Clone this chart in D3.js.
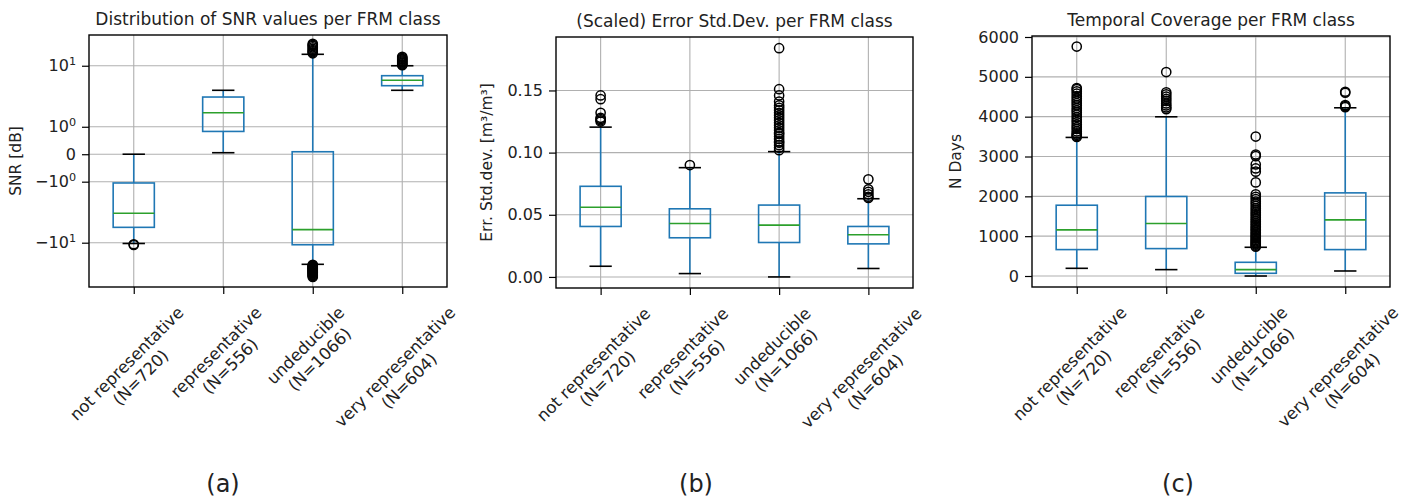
<!DOCTYPE html>
<html>
<head>
<meta charset="utf-8">
<script src="https://cdn.jsdelivr.net/npm/d3@7"></script>
<style>
  body { margin: 0; background: #fff; }
  svg { display: block; }
  text { font-family: "DejaVu Sans", sans-serif; fill: #222; }
</style>
</head>
<body>
<svg id="fig" width="1410" height="497"></svg>
<script>
// ---- categories ----
const classNames = ["not representative", "representative", "undeducible", "very representative"];
const classCounts = [720, 556, 1066, 604];

// ---- (a) SNR [dB], symmetric-log axis ----
const snrWhiskerLow  = [-10.3, 0.055, -22.6, 3.96];
const snrQ1          = [-5.6, 0.83, -10.8, 4.71];
const snrMedian      = [-3.3, 1.70, -6.1, 5.77];
const snrQ3          = [-1.05, 3.07, 0.09, 6.87];
const snrWhiskerHigh = [0.0, 3.96, 15.4, 10.0];
const snrOutliers = [
  [-10.6, -10.9],
  [],
  [16.0, 16.6, 17.3, 18.1, 19.0, 20.0, 21.1, 22.0, 22.8,
   -23.0, -23.6, -24.1, -24.7, -25.2, -25.9, -26.5, -27.0, -27.6, -28.3, -29.0,
   -29.6, -30.4, -31.2, -32.0, -33.1, -34.0, -35.2, -36.5],
  [10.2, 10.5, 10.9, 11.3, 11.7, 12.1, 12.6, 13.0, 13.5, 14.0]
];
const snrTicks = [-10, -1, 0, 1, 10];
const snrTickLabels = [["\u221210", "1"], ["\u221210", "0"], ["0", ""], ["10", "0"], ["10", "1"]];

// ---- (b) scaled error standard deviation ----
const errWhiskerLow  = [0.0086, 0.0027, 0.0, 0.0068];
const errQ1          = [0.0406, 0.0315, 0.0277, 0.0266];
const errMedian      = [0.0560, 0.0430, 0.0417, 0.0339];
const errQ3          = [0.0729, 0.0548, 0.0578, 0.0406];
const errWhiskerHigh = [0.1205, 0.0879, 0.1008, 0.0629];
const errOutliers = [
  [0.125, 0.126, 0.127, 0.128, 0.132, 0.143, 0.146],
  [0.090],
  [0.102, 0.104, 0.106, 0.108, 0.109, 0.111, 0.113, 0.115, 0.116, 0.118, 0.120, 0.122,
   0.124, 0.126, 0.128, 0.130, 0.132, 0.134, 0.136, 0.138, 0.141, 0.146, 0.151, 0.184],
  [0.0635, 0.0645, 0.0665, 0.0685, 0.0705, 0.0785]
];
const errTicks = [0, 0.05, 0.10, 0.15];

// ---- (c) temporal coverage [days] ----
const daysWhiskerLow  = [193, 160, 0, 126];
const daysQ1          = [663, 688, 68, 663];
const daysMedian      = [1157, 1317, 160, 1408];
const daysQ3          = [1777, 1996, 344, 2087];
const daysWhiskerHigh = [3479, 3997, 721, 4223];
const daysOutliers = [
  [3490, 3515, 3545, 3580, 3630, 3690, 3740, 3800, 3865, 3920, 3985, 4050, 4110, 4160,
   4220, 4285, 4340, 4400, 4455, 4515, 4580, 4635, 4690, 4720, 5760],
  [4190, 4230, 4280, 4330, 4395, 4450, 4505, 4560, 4610, 5120],
  [735, 760, 790, 815, 840, 870, 900, 935, 965, 1000, 1030, 1065, 1100, 1140, 1175,
   1210, 1250, 1290, 1330, 1375, 1420, 1460, 1510, 1555, 1600, 1650, 1700, 1760,
   1820, 1870, 1930, 1990, 2050, 2350, 2620, 2700, 2800, 3010, 3050, 3500],
  [4240, 4265, 4290, 4600, 4625]
];
const daysTicks = [0, 1000, 2000, 3000, 4000, 5000, 6000];

const panelTitles = [
  "Distribution of SNR values per FRM class",
  "(Scaled) Error Std.Dev. per FRM class",
  "Temporal Coverage per FRM class"
];
const axisLabels = ["SNR [dB]", "Err. Std.dev. [m\u00b3/m\u00b3]", "N Days"];
const captions = ["(a)", "(b)", "(c)"];

// ---- styling ----
const BOX_COLOR = "#1f77b4";
const MEDIAN_COLOR = "#2ca02c";
const GRID_COLOR = "#b0b0b0";
const TICK_FONT = 16;
const XLABEL_FONT = 16.5;

// symmetric log transform: linear within |v| <= 1, logarithmic beyond
const LINSCALE = 0.45;
const symlog = v => {
  const a = Math.abs(v);
  return Math.sign(v) * (a <= 1 ? a * LINSCALE : LINSCALE + Math.log10(a));
};

const svg = d3.select("#fig");

function drawBoxPanel(p) {
  const g = svg.append("g");
  const T = p.transform || (v => v);
  const x = d3.scalePoint().domain(classNames).range([p.left, p.right]).padding(0.5);
  const y = d3.scaleLinear().domain(p.domain.map(T)).range([p.bottom, p.top]);
  const Y = v => y(T(v));
  const step = x.step();
  const boxW = step * 0.46;
  const capW = step * 0.25;

  // grid
  const grid = g.append("g");
  grid.selectAll("line.h").data(p.ticks).join("line")
    .attr("x1", p.left).attr("x2", p.right)
    .attr("y1", d => Y(d)).attr("y2", d => Y(d))
    .attr("stroke", GRID_COLOR).attr("stroke-width", 1.1);
  grid.selectAll("line.v").data(classNames).join("line")
    .attr("x1", d => x(d)).attr("x2", d => x(d))
    .attr("y1", p.top).attr("y2", p.bottom)
    .attr("stroke", GRID_COLOR).attr("stroke-width", 1.1);

  // boxes, whiskers, caps, medians, outliers
  const stats = classNames.map((c, i) => ({
    c, lo: p.lo[i], q1: p.q1[i], med: p.med[i], q3: p.q3[i], hi: p.hi[i], out: p.out[i]
  }));
  const marks = g.append("g");
  stats.forEach(s => {
    const cx = x(s.c);
    marks.append("rect")
      .attr("x", cx - boxW / 2).attr("width", boxW)
      .attr("y", Y(s.q3)).attr("height", Y(s.q1) - Y(s.q3))
      .attr("fill", "none").attr("stroke", BOX_COLOR).attr("stroke-width", 1.6);
    marks.append("line").attr("x1", cx).attr("x2", cx)
      .attr("y1", Y(s.q1)).attr("y2", Y(s.lo))
      .attr("stroke", BOX_COLOR).attr("stroke-width", 1.6);
    marks.append("line").attr("x1", cx).attr("x2", cx)
      .attr("y1", Y(s.q3)).attr("y2", Y(s.hi))
      .attr("stroke", BOX_COLOR).attr("stroke-width", 1.6);
    [s.lo, s.hi].forEach(v => {
      marks.append("line").attr("x1", cx - capW / 2).attr("x2", cx + capW / 2)
        .attr("y1", Y(v)).attr("y2", Y(v))
        .attr("stroke", "#000").attr("stroke-width", 1.6);
    });
    marks.append("line").attr("x1", cx - boxW / 2).attr("x2", cx + boxW / 2)
      .attr("y1", Y(s.med)).attr("y2", Y(s.med))
      .attr("stroke", MEDIAN_COLOR).attr("stroke-width", 1.6);
    marks.append("g").selectAll("circle").data(s.out).join("circle")
      .attr("cx", cx).attr("cy", d => Y(d)).attr("r", 4.6)
      .attr("fill", "none").attr("stroke", "#000").attr("stroke-width", 1.5);
  });

  // frame
  g.append("rect")
    .attr("x", p.left).attr("y", p.top)
    .attr("width", p.right - p.left).attr("height", p.bottom - p.top)
    .attr("fill", "none").attr("stroke", "#000").attr("stroke-width", 1.4);

  // y axis
  const yAxis = g.append("g").attr("transform", `translate(${p.left},0)`)
    .call(d3.axisLeft(y).tickValues(p.ticks.map(T)).tickSize(7).tickPadding(6)
      .tickFormat((d, i) => p.fmt ? p.fmt(p.ticks[i]) : ""));
  yAxis.select(".domain").remove();
  yAxis.selectAll(".tick line").attr("stroke", "#000").attr("stroke-width", 1.2);
  yAxis.selectAll(".tick text").attr("font-size", TICK_FONT).attr("font-family", "DejaVu Sans").attr("fill", "#222");
  if (p.supLabels) {
    yAxis.selectAll(".tick text").each(function (d, i) {
      const t = d3.select(this).text("");
      const [base, exp] = p.supLabels[i];
      t.append("tspan").text(base);
      if (exp) t.append("tspan").attr("font-size", TICK_FONT * 0.7).attr("dy", "-0.55em").text(exp);
    });
  }

  // x axis
  const xAxis = g.append("g").attr("transform", `translate(0,${p.bottom})`)
    .call(d3.axisBottom(x).tickSize(7).tickFormat(""));
  xAxis.select(".domain").remove();
  xAxis.selectAll(".tick line").attr("stroke", "#000").attr("stroke-width", 1.2);

  // rotated two-line category labels, bounding box centred under each tick
  const labelTop = p.bottom + 16;
  classNames.forEach((c, i) => {
    const cx = x(c);
    const lg = g.append("g").attr("transform", `translate(${cx},${labelTop}) rotate(-45)`);
    const t = lg.append("text").attr("text-anchor", "middle").attr("font-size", XLABEL_FONT);
    t.append("tspan").attr("x", 0).attr("dy", 0).text(c);
    t.append("tspan").attr("x", 0).attr("dy", "1.2em").text(`(N=${classCounts[i]})`);
    const r = lg.node().getBoundingClientRect();
    const dx = cx - (r.left + r.right) / 2;
    const dy = labelTop - r.top;
    lg.attr("transform", `translate(${cx + dx},${labelTop + dy}) rotate(-45)`);
  });

  // title
  g.append("text")
    .attr("x", (p.left + p.right) / 2).attr("y", p.top - 10)
    .attr("text-anchor", "middle").attr("font-size", 17)
    .text(p.title);

  // y label
  g.append("text")
    .attr("transform", `translate(${p.ylabelX},${(p.top + p.bottom) / 2}) rotate(-90)`)
    .attr("text-anchor", "middle").attr("font-size", 15.5)
    .text(p.ylabel);

  // caption
  g.append("text")
    .attr("x", p.captionX).attr("y", 492)
    .attr("text-anchor", "middle").attr("font-size", 24)
    .attr("font-family", "Lato, 'Open Sans', sans-serif").attr("fill", "#111")
    .text(p.caption);
}

drawBoxPanel({
  left: 89, right: 447, top: 35, bottom: 287,
  domain: [-53.2, 31.9], transform: symlog,
  ticks: snrTicks, supLabels: snrTickLabels,
  lo: snrWhiskerLow, q1: snrQ1, med: snrMedian, q3: snrQ3, hi: snrWhiskerHigh, out: snrOutliers,
  title: panelTitles[0], ylabel: axisLabels[0], ylabelX: 21,
  caption: captions[0], captionX: 223
});

drawBoxPanel({
  left: 556, right: 913, top: 37, bottom: 288,
  domain: [-0.0089, 0.193],
  ticks: errTicks, fmt: d3.format(".2f"),
  lo: errWhiskerLow, q1: errQ1, med: errMedian, q3: errQ3, hi: errWhiskerHigh, out: errOutliers,
  title: panelTitles[1], ylabel: axisLabels[1], ylabelX: 492,
  caption: captions[1], captionX: 696
});

drawBoxPanel({
  left: 1032, right: 1390, top: 36, bottom: 287,
  domain: [-276, 6025],
  ticks: daysTicks, fmt: d3.format("d"),
  lo: daysWhiskerLow, q1: daysQ1, med: daysMedian, q3: daysQ3, hi: daysWhiskerHigh, out: daysOutliers,
  title: panelTitles[2], ylabel: axisLabels[2], ylabelX: 961,
  caption: captions[2], captionX: 1178
});
</script>
</body>
</html>
